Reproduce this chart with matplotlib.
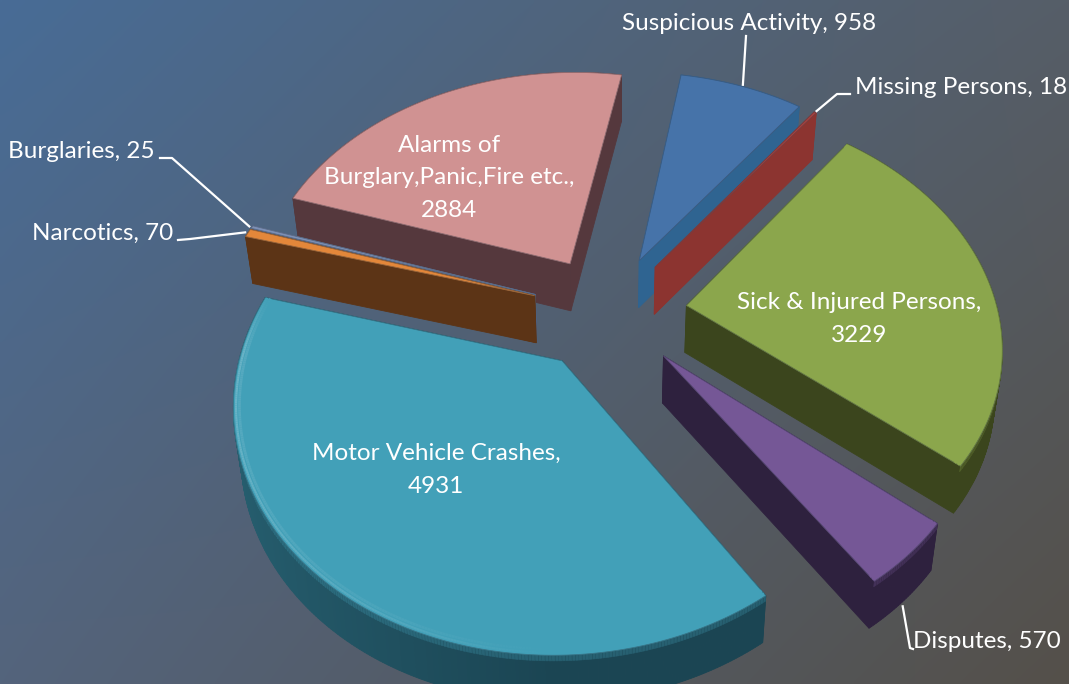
import numpy as np
import matplotlib
matplotlib.use("Agg")
import matplotlib.pyplot as plt
from matplotlib.patches import Polygon

# ---- data, in the chart's own order (clockwise from the start angle)
categories = ["Suspicious Activity", "Missing Persons", "Sick & Injured Persons", "Disputes",
              "Motor Vehicle Crashes", "Narcotics", "Burglaries", "Alarms of\nBurglary,Panic,Fire etc."]
values = [958, 18, 3229, 570, 4931, 70, 25, 2884]
top_colors = ["#4673A9", "#A8423F", "#8BA64C", "#755796", "#42A0B8", "#E3873A", "#7C8FB5", "#D09292"]
side_colors = ["#2F6491", "#8C3430", "#3B451D", "#2E213E", "#1B4553", "#5C3416", "#4E5F80", "#55383D"]

start_angle = 10.0
explode = 0.25
cx, cy, ax_r, by_r, persp = 609.0, 312.0, 313.0, 232.0, 0.155
depth = 47.0
# slice-wise radius, matching the original's perspective distortion
radius_scale = [1, 1, 0.995, 0.97, 1, 1.02, 1.02, 1.015]

plt.rcParams["font.family"] = ["Lato", "DejaVu Sans"]
fig = plt.figure(figsize=(10.69, 6.84), dpi=100)
ax = fig.add_axes([0, 0, 1, 1])
ax.set_xlim(0, 1069)
ax.set_ylim(684, 0)
ax.axis("off")

# background
corners = np.array([[[72, 108, 150], [86, 94, 104]],
                    [[84, 100, 124], [84, 80, 74]]], dtype=float) / 255
ty, tx = np.mgrid[0:1:171j, 0:1:268j]
bg = (corners[0, 0][None, None] * ((1-tx)*(1-ty))[..., None] + corners[0, 1][None, None] * (tx*(1-ty))[..., None]
      + corners[1, 0][None, None] * ((1-tx)*ty)[..., None] + corners[1, 1][None, None] * (tx*ty)[..., None])
ax.imshow(bg, extent=(0, 1069, 684, 0), aspect="auto", zorder=0, interpolation="bilinear")


def project(theta, r, mid, z=0.0):
    """theta clockwise from the back of the pie, degrees; z = 0 top, 1 bottom."""
    t, m = np.radians(theta), np.radians(mid)
    U = explode * np.sin(m) + r * np.sin(t)
    V = explode * np.cos(m) + r * np.cos(t)
    w = 1 + persp * V
    x = ax_r * U / w * (1 - 0.02 * z)
    y = -by_r * V / w
    if np.ndim(theta):
        return np.column_stack([cx + x, cy + y + depth * z])
    return np.array([cx + x, cy + y + depth * z])


def mix(c, other, f):
    a, b = np.array(matplotlib.colors.to_rgb(c)), np.array(matplotlib.colors.to_rgb(other))
    return tuple(a + (b - a) * f)


vals = np.array(values, float)
edges = start_angle + np.concatenate([[0], np.cumsum(vals)]) / vals.sum() * 360
mids = (edges[:-1] + edges[1:]) / 2

draw_order = [7, 0, 1, 2, 6, 5, 3, 4]
for i in draw_order:
    a0, a1, m = edges[i], edges[i+1], mids[i]
    R = radius_scale[i]
    arc = np.linspace(a0, a1, max(int((a1 - a0) * 2), 3))
    apex_t = project(a0, 0.0, m)
    apex_b = project(a0, 0.0, m, 1.0)
    top_arc = project(arc, R, m)
    bot_arc = project(arc, R, m, 1.0)
    side = side_colors[i]

    def wall(j, front):
        c = arc[j]
        if (np.cos(np.radians(c)) < 0) != front:
            return
        light = np.clip(np.sin(np.radians(c - 180)), 0, 1) * 0.28 * (np.cos(np.radians(c)) < 0)
        col = mix(side, top_colors[i], light)
        ax.add_patch(Polygon([top_arc[j], top_arc[j+1], bot_arc[j+1], bot_arc[j]], closed=True,
                             fc=col, ec=col, lw=0.6, zorder=2))
        if front:
            # soft blend at the top of the wall
            up = project(arc[j:j+2], R, m, 0.12)
            blend = mix(col, top_colors[i], 0.3)
            ax.add_patch(Polygon([top_arc[j], top_arc[j+1], up[1], up[0]], closed=True,
                                 fc=blend, ec=blend, lw=0.4, zorder=2))

    for j in range(len(arc) - 1):
        wall(j, False)
    # radial faces
    for k in (0, -1):
        ax.add_patch(Polygon([apex_t, top_arc[k], bot_arc[k], apex_b], closed=True, fc=side, ec=side, lw=0.6, zorder=2))
    for j in range(len(arc) - 1):
        wall(j, True)
    # top face
    ax.add_patch(Polygon(np.vstack([apex_t, top_arc]), closed=True, fc=top_colors[i],
                         ec=mix(top_colors[i], "#2A3440", 0.4), lw=0.6, zorder=2))
    # soft bevel along the rim, brightest on the left flank, fading to both ends
    if np.cos(np.radians(m)) < 0.3 and a1 - a0 > 5:
        for rr, f, lw in ((0.992, 0.2, 1.6), (0.982, 0.1, 2.0)):
            inner = project(arc, R * rr, m)
            for j in range(len(arc) - 1):
                lf = np.clip(np.sin(np.radians(arc[j] - 180)), 0, 1)
                fade = np.clip((a1 - arc[j]) / 12.0, 0, 1)
                col = mix(top_colors[i], "#FFFFFF", f * lf * fade)
                ax.plot(inner[j:j+2, 0], inner[j:j+2, 1], color=col, lw=lw, solid_capstyle="butt", zorder=2)

# data labels
txt = dict(color="white", fontsize=17.5, zorder=4, linespacing=1.68)
def lab(i, x, y, ha="center"):
    s = f"{categories[i]}, {values[i]}" if i in (0, 1, 3, 5, 6) else f"{categories[i]},\n{values[i]}"
    ax.text(x, y, s, ha=ha, va="center", **txt)
lab(0, 749, 24)
lab(1, 961, 88)
lab(2, 859, 319)
lab(3, 987, 642)
lab(4, 436, 470)
lab(5, 103, 233)
lab(6, 81, 152)
lab(7, 449, 178)

# leader lines, each starting at its slice
def leader(i, pts, frac=0.5, z=0.0):
    theta = edges[i] + (edges[i+1] - edges[i]) * frac
    p = project(theta, 1.01 * radius_scale[i], mids[i], z)
    xy = np.vstack([p, pts])
    ax.plot(xy[:, 0], xy[:, 1], color="white", lw=1.6, zorder=3)

leader(0, [[746, 36]], 0.5)
leader(1, [[837, 94], [850, 94]])
leader(3, [[910, 648], [913, 649]], 0.55, 1.0)
leader(5, [[190, 239], [178, 240]], 0.5)
leader(6, [[172, 158], [160, 158]], 0.5)

fig.savefig("out.png", dpi=100)
